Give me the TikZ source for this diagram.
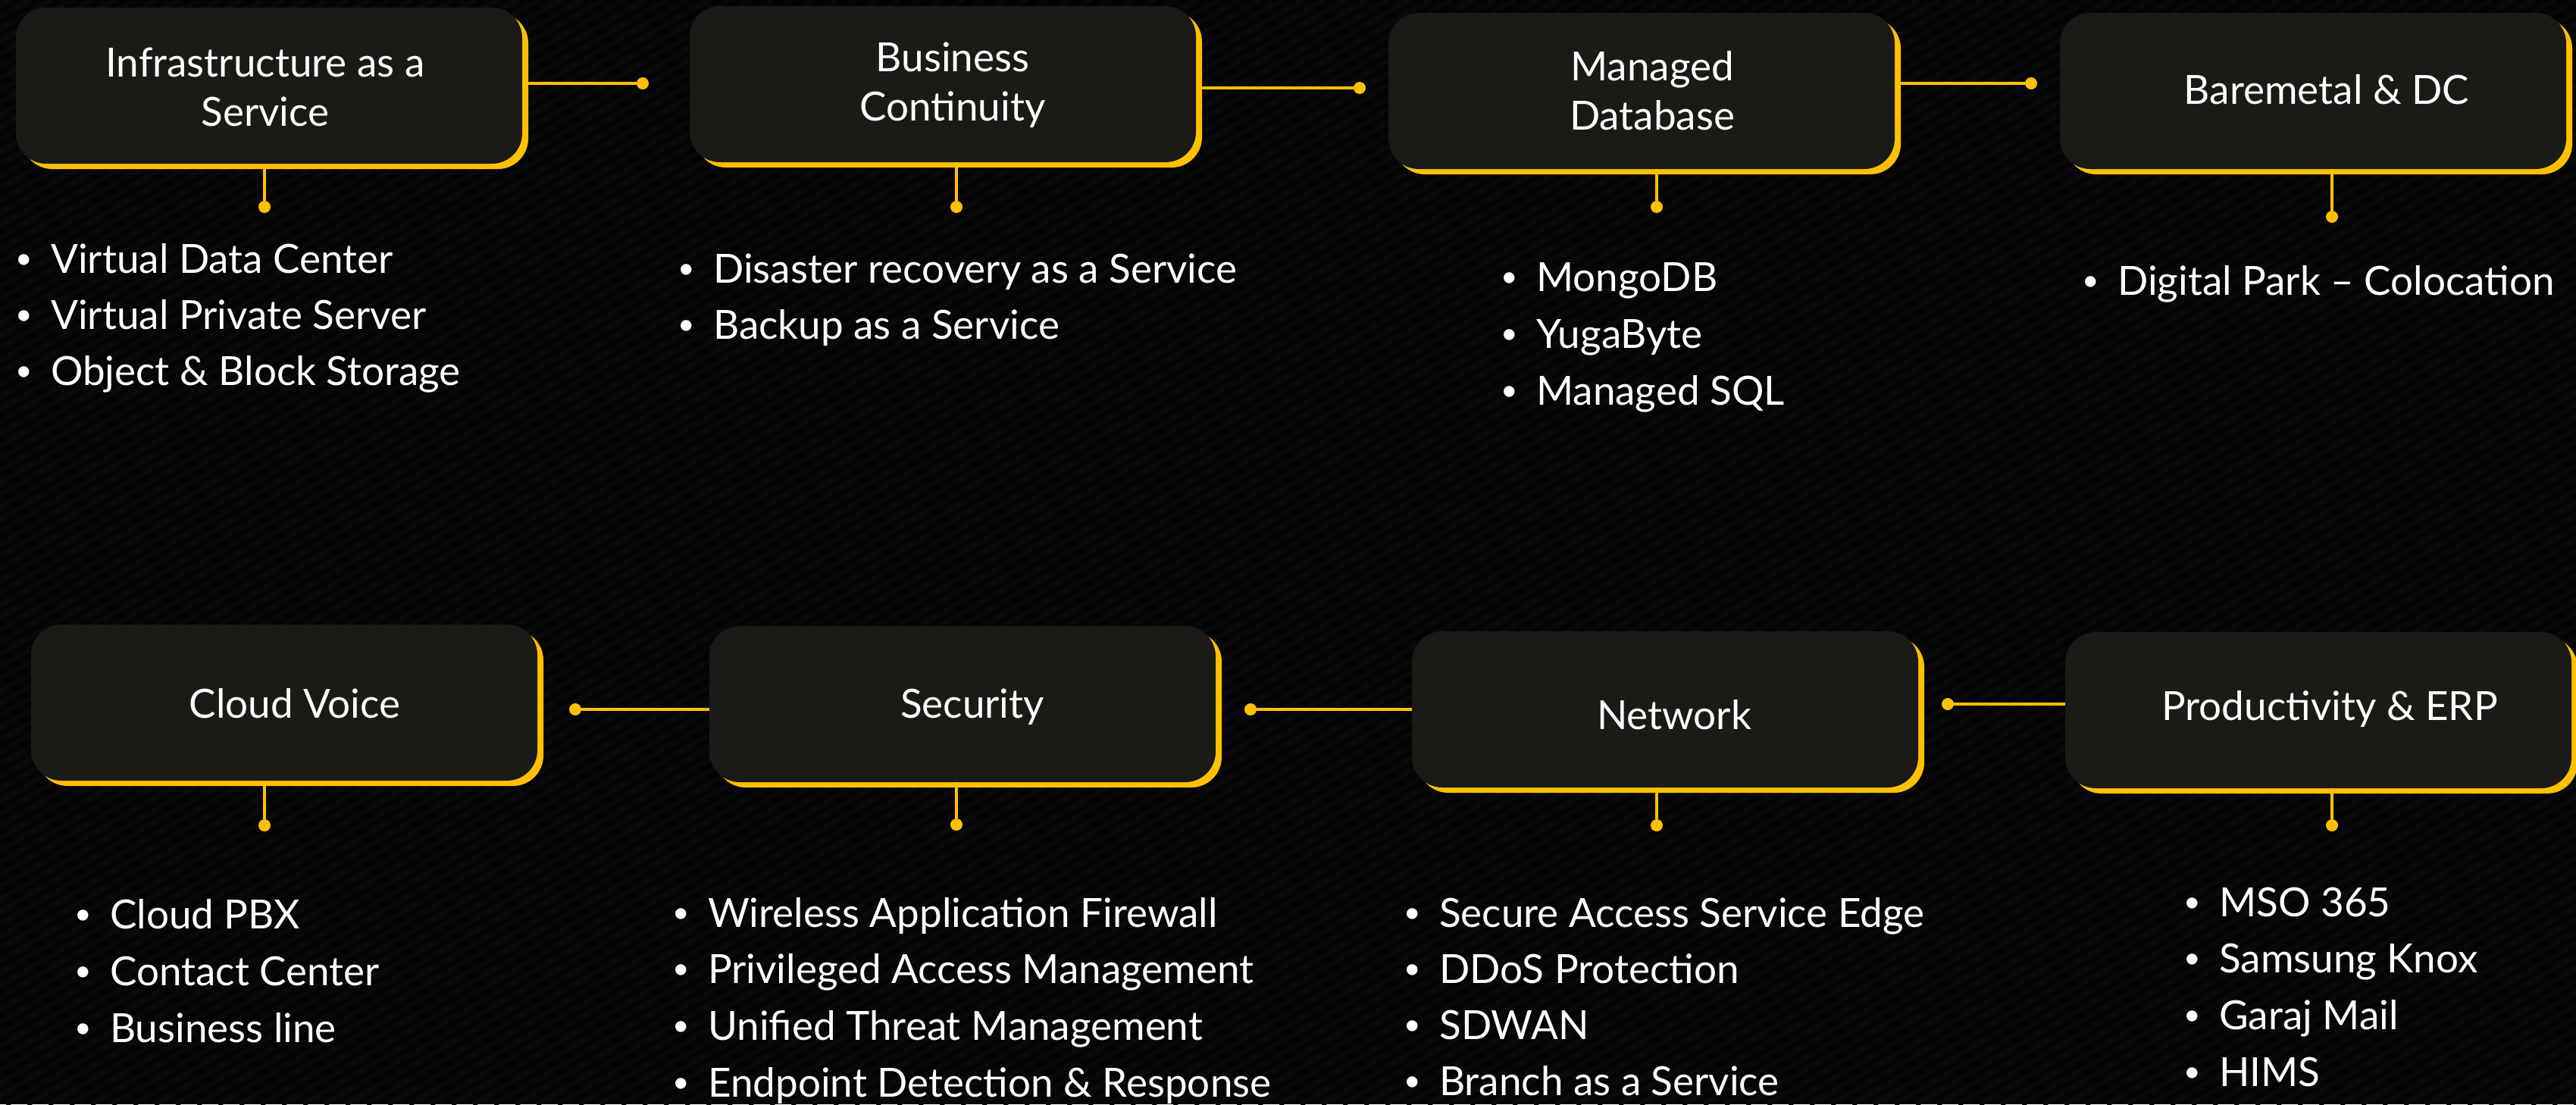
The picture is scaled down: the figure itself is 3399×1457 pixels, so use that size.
\documentclass[tikz,border=0pt]{standalone}
\usepackage{fontspec}
\setmainfont{Lato}
\newfontfamily\bulfont{Liberation Sans}
\usetikzlibrary{shadows}
\definecolor{gold}{HTML}{FFC000}
\definecolor{boxfill}{HTML}{1A1A16}
\definecolor{bg}{HTML}{040405}
\definecolor{stripe}{HTML}{09090C}
\newcommand\bul{\llap{\makebox[70pt][c]{\bulfont\textbullet}}}
\tikzset{
  box/.style={rounded corners=40pt, fill=boxfill, minimum width=668pt, minimum height=206pt,
    inner sep=0pt, general shadow={fill=gold, shadow xshift=8pt, shadow yshift=-7pt}},
  title/.style={text=white, font=\fontsize{53}{65}\selectfont, align=center, inner sep=0pt},
  item/.style={text=white, font=\fontsize{53}{65}\selectfont, anchor=base west, inner sep=0pt},
  link/.style={draw=gold, line width=3.5pt},
  dot/.style={circle, fill=gold, minimum size=16pt, inner sep=0pt},
}
\begin{document}
\begin{tikzpicture}[x=1pt,y=-1pt]
\useasboundingbox (0,0) rectangle (3399,1457);
\fill[bg] (0,0) rectangle (3399,1457);
\begin{scope}
  \clip (0,0) rectangle (3399,1457);
  \foreach \i in {-2540,-2512,...,3400}
    \draw[stripe, line width=7pt] (\i,1457) -- ++(2523,-1457);
\end{scope}

% boxes
\node[box] (b1) at (355,113) {};
\node[box] (b2) at (1244,111) {};
\node[box] (b3) at (2166,120) {};
\node[box] (b4) at (3052,120) {};
\node[box] (b5) at (375,927) {};
\node[box] (b6) at (1270,929) {};
\node[box] (b7) at (2197,936) {};
\node[box] (b8) at (3059,937) {};

% titles
\node[title] (t1) at (350,115) {Infrastructure as a\\Service};
\node[title] (t2) at (1257,112) {Business\\Continuity};
\node[title] (t3) at (2180,120) {Managed\\Database};
\node[title, anchor=base] (t4) at (3070,137) {Baremetal \& DC};
\node[title, anchor=base] (t5) at (389,947) {Cloud Voice};
\node[title, anchor=base] (t6) at (1283,947) {Security};
\node[title, anchor=base] (t7) at (2209,962) {Network};
\node[title, anchor=base] (t8) at (3074,950) {Productivity \& ERP};

% dots
\node[dot] (h1) at (848,110) {};
\node[dot] (h2) at (1794,116) {};
\node[dot] (h3) at (2680,110) {};
\node[dot] (v1) at (349,273) {};
\node[dot] (v2) at (1262,273) {};
\node[dot] (v3) at (2186,273) {};
\node[dot] (v4) at (3077,286) {};
\node[dot] (h5) at (759,936) {};
\node[dot] (h6) at (1650,936) {};
\node[dot] (h7) at (2570,929) {};
\node[dot] (v5) at (349,1089) {};
\node[dot] (v6) at (1262,1088) {};
\node[dot] (v7) at (2186,1089) {};
\node[dot] (v8) at (3077,1089) {};

% connectors
\draw[link] (b1.east |- h1) -- (h1);
\draw[link] (b2.east |- h2) -- (h2);
\draw[link] (b3.east |- h3) -- (h3);
\draw[link] (v1 |- b1.south) -- (v1);
\draw[link] (v2 |- b2.south) -- (v2);
\draw[link] (v3 |- b3.south) -- (v3);
\draw[link] (v4 |- b4.south) -- (v4);
\draw[link] (h5) -- (b6.west |- h5);
\draw[link] (h6) -- (b7.west |- h6);
\draw[link] (h7) -- (b8.west |- h7);
\draw[link] (v5 |- b5.south) -- (v5);
\draw[link] (v6 |- b6.south) -- (v6);
\draw[link] (v7 |- b7.south) -- (v7);
\draw[link] (v8 |- b8.south) -- (v8);

% lists
\foreach \t [count=\k] in {Virtual Data Center, Virtual Private Server, Object \& Block Storage}
  \node[item] (la\k) at (67,{360+74*(\k-1)}) {\bul\t};
\foreach \t [count=\k] in {Disaster recovery as a Service, Backup as a Service}
  \node[item] (lb\k) at (941,{373+74*(\k-1)}) {\bul\t};
\foreach \t [count=\k] in {MongoDB, YugaByte, Managed SQL}
  \node[item] (lc\k) at (2027,{384+75*(\k-1)}) {\bul\t};
\node[item] (ld1) at (2794,389) {\bul Digital Park – Colocation};
\foreach \t [count=\k] in {Cloud PBX, Contact Center, Business line}
  \node[item] (le\k) at (145,{1225+75*(\k-1)}) {\bul\t};
\foreach \t [count=\k] in {Wireless Application Firewall, Privileged Access Management, Unified Threat Management, Endpoint Detection \& Response}
  \node[item] (lf\k) at (934,{1223+74.7*(\k-1)}) {\bul\t};
\foreach \t [count=\k] in {Secure Access Service Edge, DDoS Protection, SDWAN, Branch as a Service}
  \node[item] (lg\k) at (1899,{1223+74.3*(\k-1)}) {\bul\t};
\foreach \t [count=\k] in {MSO 365, Samsung Knox, Garaj Mail, HIMS}
  \node[item] (lh\k) at (2928,{1209+74.7*(\k-1)}) {\bul\t};
\end{tikzpicture}
\end{document}
